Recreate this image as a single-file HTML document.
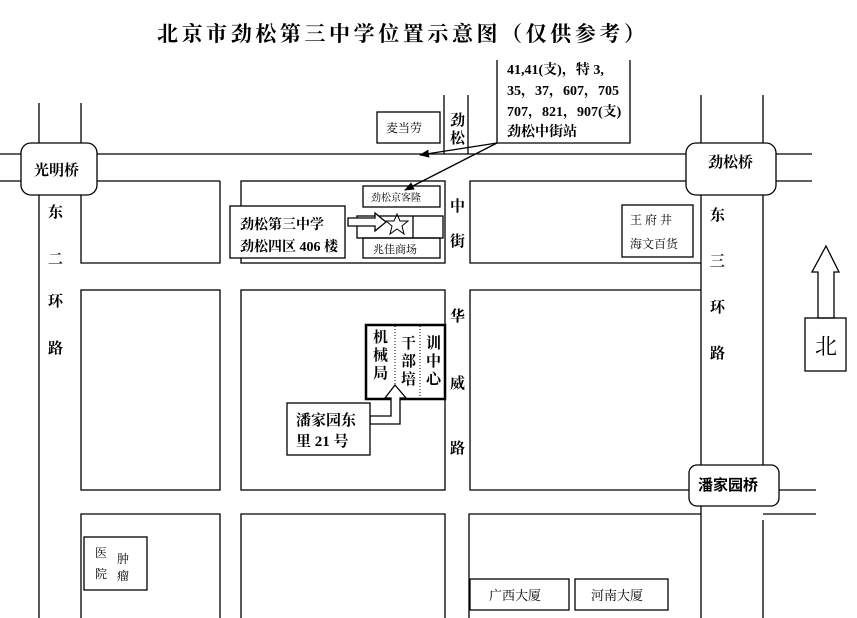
<!DOCTYPE html>
<html><head><meta charset="utf-8"><style>
html,body{margin:0;padding:0;background:#fff;}
svg{display:block;}
text{font-family:"Liberation Serif","Noto Serif CJK SC","Noto Sans CJK SC",serif;fill:#000;}
.b{font-weight:bold;}
.s{font-family:"Liberation Sans","Noto Sans CJK SC",sans-serif;}
</style></head><body>
<svg width="857" height="618" viewBox="0 0 857 618" xmlns="http://www.w3.org/2000/svg">
<defs>
<marker id="ah" markerWidth="10" markerHeight="8" refX="9" refY="4" orient="auto" markerUnits="userSpaceOnUse">
<path d="M0,0 L10,4 L0,8 z" fill="#000"/></marker>
</defs>
<text x="157" y="41" font-size="21" class="b" textLength="488" lengthAdjust="spacing">北京市劲松第三中学位置示意图（仅供参考）</text>
<g stroke="#000" stroke-width="1.3" fill="none">
<line x1="0" y1="154" x2="812" y2="154"/>
<line x1="0" y1="181" x2="21" y2="181"/>
<line x1="97" y1="181" x2="220" y2="181"/>
<line x1="776" y1="181" x2="812" y2="181"/>
<line x1="39" y1="103" x2="39" y2="618"/>
<line x1="81" y1="103" x2="81" y2="154"/>
<line x1="701" y1="95" x2="701" y2="154"/>
<line x1="763" y1="95" x2="763" y2="154"/>
<line x1="701" y1="195" x2="701" y2="465"/>
<line x1="701" y1="506" x2="701" y2="618"/>
<line x1="763" y1="195" x2="763" y2="465"/>
<line x1="763" y1="520" x2="763" y2="618"/>
<line x1="779" y1="490" x2="816" y2="490"/>
<line x1="763" y1="514" x2="816" y2="514"/>
<line x1="444" y1="95" x2="444" y2="154"/>
<line x1="468" y1="95" x2="468" y2="154"/>
<polyline points="81,181 81,263 220,263 220,181"/>
<rect x="241" y="181" width="204" height="82"/>
<polyline points="701,181 470,181 470,263 701,263"/>
<rect x="81" y="290" width="139" height="200"/>
<rect x="241" y="290" width="204" height="200"/>
<polyline points="701,290 470,290 470,490 689,490"/>
<polyline points="81,618 81,514 220,514 220,618"/>
<polyline points="241,618 241,514 445,514 445,618"/>
<polyline points="469,618 469,514 701,514"/>
<rect x="21" y="143" width="76" height="52" rx="10" fill="#fff"/>
<rect x="686" y="143" width="90" height="52" rx="10" fill="#fff"/>
<rect x="689" y="465" width="90" height="41" rx="8" fill="#fff"/>
<rect x="377" y="112" width="63" height="31"/>
<polyline points="497,60 497,143 630,143 630,60"/>
<rect x="622" y="205" width="71" height="52"/>
<rect x="363" y="186" width="77" height="21"/>
<rect x="357" y="216" width="86" height="22"/>
<line x1="413" y1="216" x2="413" y2="238"/>
<rect x="363" y="238" width="77" height="20"/>
<rect x="230" y="206" width="115" height="52" fill="#fff"/>
<path d="M348,218 L375,218 L375,213 L386,222 L375,231 L375,226 L348,226 z" fill="#fff"/>
<polygon points="397,214 400,221 408,221 402,226 404,234 397,229 390,234 392,226 386,221 394,221" stroke-width="1"/>
<rect x="366" y="325" width="79" height="74" stroke-width="2.5"/>
<line x1="395" y1="326" x2="395" y2="398" stroke-dasharray="1,2" stroke-width="1"/>
<line x1="420" y1="326" x2="420" y2="398" stroke-dasharray="1,2" stroke-width="1"/>
<path d="M395,385 L406,398 L400,398 L400,424 L370,424 L370,416 L391,416 L391,398 L385,398 z" fill="#fff"/>
<rect x="287" y="403" width="83" height="52" fill="#fff"/>
<rect x="84" y="537" width="63" height="53"/>
<rect x="470" y="579" width="99" height="31"/>
<rect x="575" y="579" width="93" height="31"/>
<path d="M826,246 L839,272 L834,272 L834,318 L818,318 L818,272 L812,272 z"/>
<rect x="805" y="318" width="41" height="53"/>
<line x1="497" y1="143" x2="420" y2="155" marker-end="url(#ah)"/>
<line x1="497" y1="143" x2="405" y2="190" marker-end="url(#ah)"/>
</g>
<g font-size="15" class="b">
<text x="34" y="175">光明桥</text>
<text x="708" y="167">劲松桥</text>
<text x="698" y="490" class="s" font-size="15">潘家园桥</text>
<text x="48" y="217">东</text><text x="48" y="264">二</text><text x="48" y="306">环</text><text x="48" y="353">路</text>
<text x="710" y="220">东</text><text x="710" y="266">三</text><text x="710" y="312">环</text><text x="710" y="358">路</text>
<text x="450" y="125">劲</text><text x="450" y="143">松</text>
<text x="450" y="211">中</text><text x="450" y="246">街</text>
<text x="450" y="321">华</text><text x="450" y="388">威</text><text x="450" y="453">路</text>
<text x="507" y="74" font-size="14">41,41(支)，特 3,</text>
<text x="507" y="95" font-size="14">35，37，607，705</text>
<text x="507" y="116" font-size="14">707，821，907(支)</text>
<text x="507" y="136" font-size="14">劲松中街站</text>
<text x="240" y="229" font-size="14">劲松第三中学</text>
<text x="240" y="251" font-size="14">劲松四区 406 楼</text>
<text x="373" y="342">机</text><text x="373" y="360">械</text><text x="373" y="378">局</text>
<text x="401" y="348">干</text><text x="401" y="366">部</text><text x="401" y="384">培</text>
<text x="426" y="348">训</text><text x="426" y="366">中</text><text x="426" y="384">心</text>
<text x="296" y="425">潘家园东</text>
<text x="296" y="446">里 21 号</text>
<text x="815" y="354" font-size="22" font-weight="normal">北</text>
</g>
<g font-size="12" class="s">
<text x="386" y="132">麦当劳</text>
<text x="371" y="201" font-size="10">劲松京客隆</text>
<text x="373" y="253" font-size="11">兆佳商场</text>
<text x="630" y="224">王 府 井</text>
<text x="630" y="248">海文百货</text>
<text x="95" y="557">医</text><text x="95" y="578">院</text>
<text x="117" y="563">肿</text><text x="117" y="580">瘤</text>
<text x="489" y="600" font-size="13">广西大厦</text>
<text x="591" y="600" font-size="13">河南大厦</text>
</g>
</svg>
</body></html>
